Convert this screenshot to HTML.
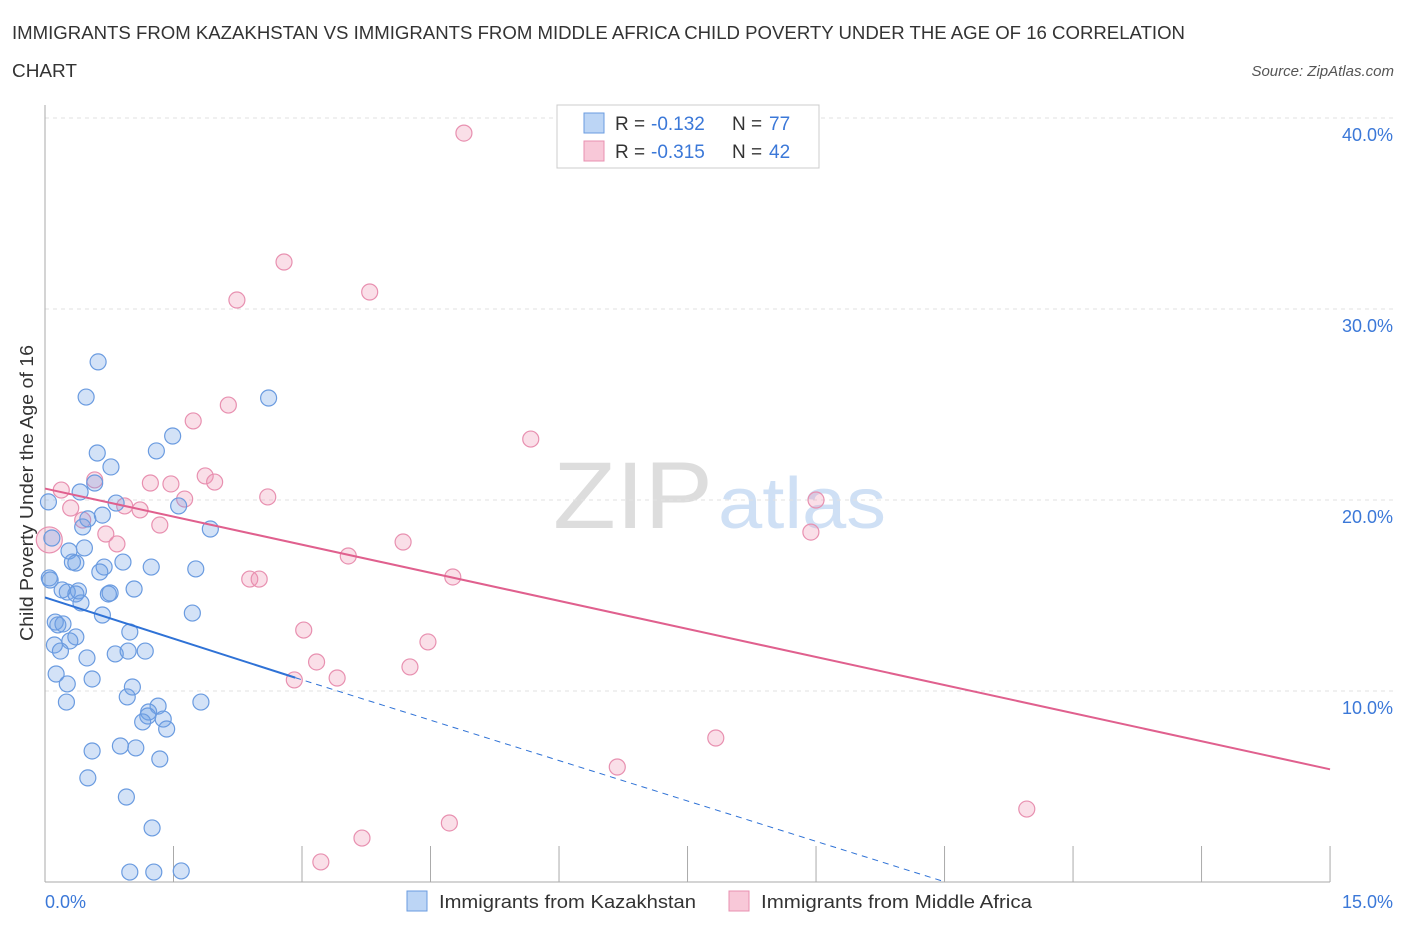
<!DOCTYPE html>
<html><head><meta charset="utf-8"><style>
body{margin:0;background:#fff;font-family:"Liberation Sans",sans-serif;}
svg text{font-family:"Liberation Sans",sans-serif;}
</style></head><body>
<svg width="1406" height="930">
<text x="12" y="39" font-size="18" fill="#333" textLength="1173" lengthAdjust="spacingAndGlyphs">IMMIGRANTS FROM KAZAKHSTAN VS IMMIGRANTS FROM MIDDLE AFRICA CHILD POVERTY UNDER THE AGE OF 16 CORRELATION</text>
<text x="12" y="77" font-size="18" fill="#333" textLength="65" lengthAdjust="spacingAndGlyphs">CHART</text>
<text x="1394" y="76" font-size="15" fill="#555" font-style="italic" text-anchor="end">Source: ZipAtlas.com</text>
<text x="553" y="528" font-size="95" fill="#ddd" font-family="Liberation Serif" textLength="160" lengthAdjust="spacingAndGlyphs">ZIP</text>
<text x="718" y="528" font-size="72" fill="#cfe0f5" textLength="168" lengthAdjust="spacingAndGlyphs">atlas</text>
<g id="grid"></g>
<g id="axes"></g>
<g id="pts"></g>
<g id="trend"></g>
<text x="33" y="493" font-size="18" fill="#333" text-anchor="middle" textLength="296" lengthAdjust="spacingAndGlyphs" transform="rotate(-90 33 493)">Child Poverty Under the Age of 16</text>
<text x="45" y="908" font-size="18" fill="#3b78d8">0.0%</text>
<text x="1393" y="908" font-size="18" fill="#3b78d8" text-anchor="end">15.0%</text>
<g>
<rect x="557" y="105" width="262" height="63" fill="#fff" stroke="#ccc"/>
<rect x="584" y="113" width="20" height="20" fill="#bcd5f5" stroke="#6a9be0"/>
<text x="615" y="130" font-size="19" fill="#333">R =</text>
<text x="651" y="130" font-size="19" fill="#3b78d8">-0.132</text>
<text x="732" y="130" font-size="19" fill="#333">N =</text>
<text x="769" y="130" font-size="19" fill="#3b78d8">77</text>
<rect x="584" y="141" width="20" height="20" fill="#f8c8d8" stroke="#e890b0"/>
<text x="615" y="158" font-size="19" fill="#333">R =</text>
<text x="651" y="158" font-size="19" fill="#3b78d8">-0.315</text>
<text x="732" y="158" font-size="19" fill="#333">N =</text>
<text x="769" y="158" font-size="19" fill="#3b78d8">42</text>
</g>
<g>
<rect x="407" y="891" width="20" height="20" fill="#bcd5f5" stroke="#6a9be0"/>
<text x="439" y="908" font-size="18" fill="#333" textLength="257" lengthAdjust="spacingAndGlyphs">Immigrants from Kazakhstan</text>
<rect x="729" y="891" width="20" height="20" fill="#f8c8d8" stroke="#e890b0"/>
<text x="761" y="908" font-size="18" fill="#333" textLength="271" lengthAdjust="spacingAndGlyphs">Immigrants from Middle Africa</text>
</g>
</svg>
<script>
const yTicks=[10,20,30,40];
const yTickLabels=["10.0%","20.0%","30.0%","40.0%"];
const xTicks=[0,1.5,3,4.5,6,7.5,9,10.5,12,13.5,15];
const bluePx=[[98,362],[86,397],[269,398],[173,436],[97,453],[156,451],[111,467],[95,483],[80,492],[116,503],[179,506],[88,519],[102,515],[83,527],[210,529],[48,502],[52,538],[69,551],[84,548],[72,562],[76,563],[123,562],[151,567],[104,567],[100,572],[196,569],[49,578],[50,580],[134,589],[110,593],[67,592],[78,591],[76,594],[108,594],[81,603],[102,615],[192,613],[55,622],[63,624],[58,625],[130,632],[76,637],[70,641],[54,645],[60,651],[115,654],[145,651],[128,651],[87,658],[56,674],[92,679],[67,684],[132,687],[127,697],[66,702],[201,702],[158,706],[149,712],[148,716],[163,719],[143,722],[167,729],[120,746],[136,748],[92,751],[160,759],[88,778],[126,797],[152,828],[130,872],[154,872],[181,871],[62,590]];
const pinkPx=[[464,133],[284,262],[370,292],[237,300],[193,421],[228,405],[531,439],[95,480],[61,490],[150,483],[171,484],[205,476],[215,482],[185,499],[268,497],[125,506],[140,510],[71,508],[83,520],[49,540],[106,534],[160,525],[117,544],[403,542],[348,556],[250,579],[259,579],[453,577],[816,500],[811,532],[304,630],[428,642],[317,662],[410,667],[337,678],[294,680],[716,738],[617,767],[1027,809],[449,823],[362,838],[321,862]];
const blueX=bluePx.map(p=>+((p[0]-45)/85.67).toFixed(2));
const blueY=bluePx.map(p=>+((882-p[1])/19.1).toFixed(2));
const pinkX=pinkPx.map(p=>+((p[0]-45)/85.67).toFixed(2));
const pinkY=pinkPx.map(p=>+((882-p[1])/19.1).toFixed(2));
const blueTrend=[[0,14.9],[2.92,10.7],[10.51,0]];
const pinkTrend=[[0,20.6],[15,5.9]];
const X=v=>45+v*85.67, Y=v=>882-v*19.1;
const NS="http://www.w3.org/2000/svg";
function mk(t,a,p){const e=document.createElementNS(NS,t);for(const k in a)e.setAttribute(k,a[k]);p.appendChild(e);return e;}
const grid=document.getElementById('grid');
yTicks.forEach((v,i)=>{
 const l=mk('line',{x1:45,x2:1393,y1:Y(v),y2:Y(v),stroke:'#e2e2e2','stroke-dasharray':'4,4'},grid);
 
 
 const t=mk('text',{x:1393,y:Y(v)+23,'font-size':18,fill:'#3b78d8','text-anchor':'end'},grid);
 t.textContent=yTickLabels[i];
 
 
});
const ax=document.getElementById('axes');
mk('line',{x1:45,x2:45,y1:105,y2:882,stroke:'#aaa'},ax);
mk('line',{x1:45,x2:1330,y1:882,y2:882,stroke:'#aaa'},ax);
xTicks.forEach(v=>{const l=mk('line',{x1:X(v),x2:X(v),y1:846,y2:882,stroke:'#aaa'},ax);
 
 });
const pts=document.getElementById('pts');
pinkX.forEach((x,i)=>{const c=mk('circle',{cx:X(x),cy:Y(pinkY[i]),r:i==19?13:8,fill:'rgba(240,150,180,0.3)',stroke:'#e890b0','stroke-width':1.2},pts);
 
 });
blueX.forEach((x,i)=>{const c=mk('circle',{cx:X(x),cy:Y(blueY[i]),r:8,fill:'rgba(110,160,230,0.3)',stroke:'#6a9be0','stroke-width':1.2},pts);
 
 });
const tr=document.getElementById('trend');
let l=mk('line',{x1:X(blueTrend[0][0]),y1:Y(blueTrend[0][1]),x2:X(blueTrend[1][0]),y2:Y(blueTrend[1][1]),stroke:'#2f72d6','stroke-width':2},tr);


l=mk('line',{x1:X(blueTrend[1][0]),y1:Y(blueTrend[1][1]),x2:X(blueTrend[2][0]),y2:Y(blueTrend[2][1]),stroke:'#2f72d6','stroke-width':1,'stroke-dasharray':'6,5'},tr);


l=mk('line',{x1:X(pinkTrend[0][0]),y1:Y(pinkTrend[0][1]),x2:X(pinkTrend[1][0]),y2:Y(pinkTrend[1][1]),stroke:'#e0608e','stroke-width':2},tr);


</script>
</body></html>
